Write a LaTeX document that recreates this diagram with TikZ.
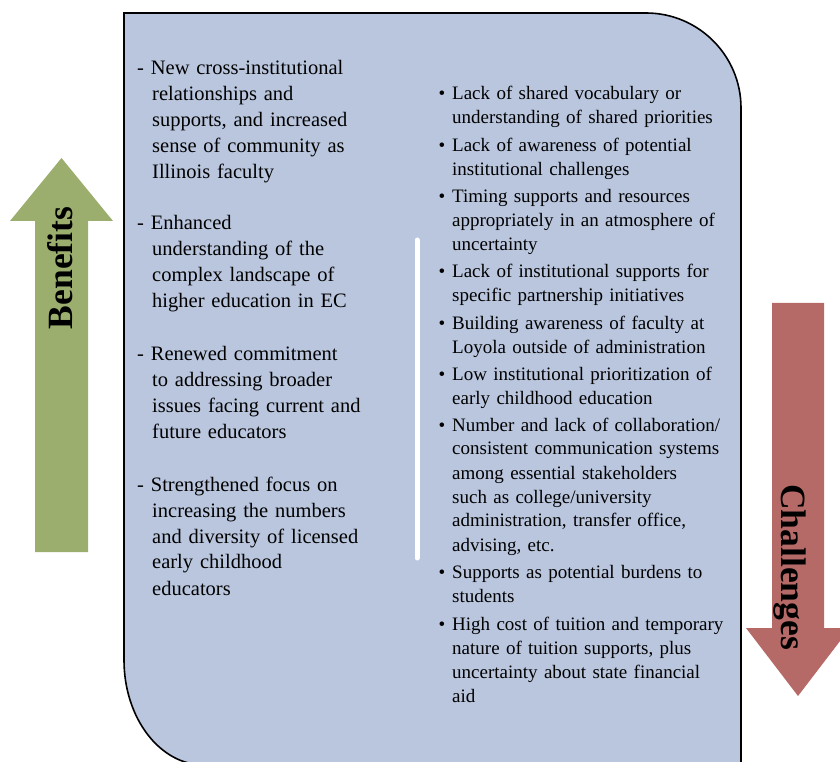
\documentclass[tikz,border=0pt]{standalone}
\usepackage{fontspec}
\setmainfont{Liberation Serif}
\usetikzlibrary{positioning}

\definecolor{panelblue}{RGB}{185,198,222}
\definecolor{bengreen}{RGB}{155,174,110}
\definecolor{chared}{RGB}{182,106,103}

\begin{document}
\begin{tikzpicture}[x=1pt,y=1pt]
% Styles
\tikzset{
    panel/.style={draw=black, line width=1.6pt, fill=panelblue},
    benitem/.style={anchor=base west, inner sep=0pt, text width=260pt, align=left,
        font=\fontsize{20.5}{26}\selectfont},
    chaitem/.style={anchor=base west, inner sep=0pt, text width=300pt, align=left,
        font=\fontsize{19}{24}\selectfont},
    arrowlabel/.style={anchor=base, inner sep=0pt, font=\fontsize{35.5}{36}\selectfont\bfseries}
}
\newcommand{\dashitem}{\hspace*{-15pt}-\ }
\newcommand{\dotitem}{\llap{\textbullet\hspace{7pt}}}
\useasboundingbox (0,0) rectangle (840,761);
% Panel
\draw[panel] (124,748) -- (646,748) arc[start angle=90,end angle=0,radius=95]
    -- (741,-4) -- (204,-4) arc[start angle=270,end angle=180,x radius=80,y radius=105] -- cycle;
\draw[white, line width=5pt, line cap=round] (417,521) -- (417,203);
% Arrows
\fill[bengreen] (35,209) -- (35,540) -- (10,540) -- (61.5,603) -- (113,540) -- (88,540) -- (88,209) -- cycle;
\fill[chared] (772,458) -- (772,133) -- (746,133) -- (798,65) -- (850,133) -- (824,133) -- (824,458) -- cycle;
\node[arrowlabel, rotate=90] (BEN) at (72,493) {Benefits};
\node[arrowlabel, rotate=-90] (CHA) at (781,194) {Challenges};
% Benefits
\node[benitem] (Ba) at (152,686) {\dashitem New cross-institutional\\relationships and\\supports, and increased\\sense of community as\\Illinois faculty};
\node[benitem] (Bb) at (152,531) {\dashitem Enhanced\\understanding of the\\complex landscape of\\higher education in EC};
\node[benitem] (Bc) at (152,400) {\dashitem Renewed commitment\\to addressing broader\\issues facing current and\\future educators};
\node[benitem] (Bd) at (152,270) {\dashitem Strengthened focus on\\increasing the numbers\\and diversity of licensed\\early childhood\\educators};
% Challenges
\node[chaitem] (Ca) at (452,661) {\dotitem Lack of shared vocabulary or\\understanding of shared priorities};
\node[chaitem] (Cb) at (452,609) {\dotitem Lack of awareness of potential\\institutional challenges};
\node[chaitem] (Cc) at (452,558) {\dotitem Timing supports and resources\\appropriately in an atmosphere of\\uncertainty};
\node[chaitem] (Cd) at (452,483) {\dotitem Lack of institutional supports for\\specific partnership initiatives};
\node[chaitem] (Ce) at (452,431) {\dotitem Building awareness of faculty at\\Loyola outside of administration};
\node[chaitem] (Cf) at (452,380) {\dotitem Low institutional prioritization of\\early childhood education};
\node[chaitem] (Cg) at (452,330) {\dotitem Number and lack of collaboration/\\consistent communication systems\\among essential stakeholders\\such as college/university\\administration, transfer office,\\advising, etc.};
\node[chaitem] (Ch) at (452,183) {\dotitem Supports as potential burdens to\\students};
\node[chaitem] (Ci) at (452,131) {\dotitem High cost of tuition and temporary\\nature of tuition supports, plus\\uncertainty about state financial\\aid};
\end{tikzpicture}
\end{document}
